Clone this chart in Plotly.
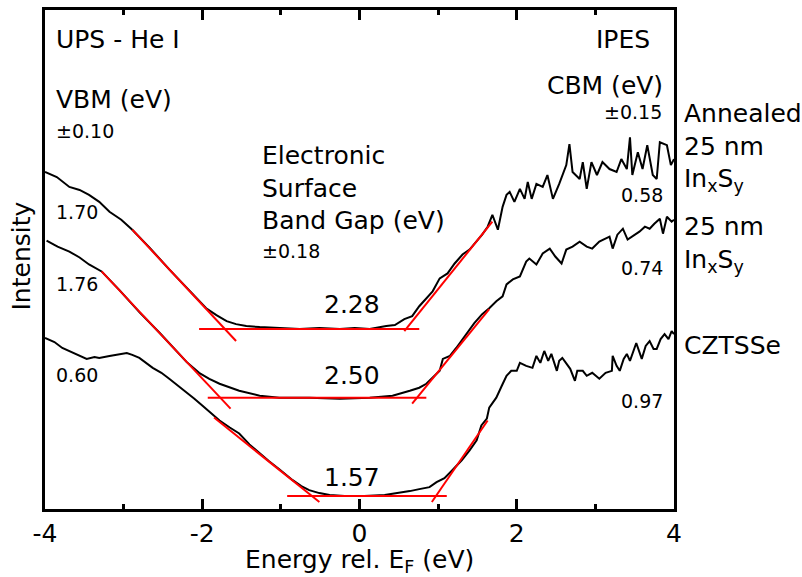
import plotly.graph_objects as go

# ---------------- data (energy in eV, intensity in arbitrary units) ----------------
annealed_x = [-4.00, -3.85, -3.69, -3.56, -3.44, -3.31, -3.18, -3.03, -2.89, -2.67, -2.42, -2.12, -1.95, -1.82,
              -1.69, -1.57, -1.44, -1.27, -1.08, -0.76, -0.51, -0.25, -0.06, 0.13, 0.34, 0.45, 0.57, 0.67, 0.76,
              0.85, 0.93, 1.02, 1.12, 1.21, 1.31, 1.40, 1.48, 1.56, 1.63, 1.69, 1.76, 1.82, 1.87, 1.91, 1.97,
              2.04, 2.10, 2.14, 2.19, 2.25, 2.33, 2.39, 2.46, 2.54, 2.63, 2.67, 2.71, 2.80, 2.84, 2.89, 2.95,
              3.02, 3.09, 3.18, 3.27, 3.33, 3.40, 3.44, 3.47, 3.54, 3.60, 3.66, 3.73, 3.78, 3.82, 3.91, 3.96, 4.00]
annealed_y = [339, 334, 324, 321, 316, 309, 299, 291, 281, 263, 241, 216, 202, 195,
              189, 186, 184, 183, 182, 181, 182, 181, 182, 181, 184, 185, 191, 194, 204,
              212, 219, 232, 237, 247, 256, 261, 268, 276, 284, 296, 281, 304, 316, 319, 309,
              322, 312, 329, 312, 327, 324, 336, 312, 327, 346, 367, 339, 332, 349, 322, 349,
              336, 349, 342, 339, 352, 342, 374, 336, 359, 342, 366, 336, 332, 369, 366, 346, 352]

inxsy_x = [-3.98, -3.84, -3.69, -3.56, -3.44, -3.28, -3.05, -2.80, -2.54, -2.20, -2.04, -1.91, -1.78, -1.65,
           -1.53, -1.27, -1.02, -0.64, -0.25, 0.13, 0.42, 0.64, 0.76, 0.85, 0.95, 1.02, 1.06, 1.15, 1.23,
           1.36, 1.46, 1.56, 1.65, 1.74, 1.82, 1.87, 1.95, 2.04, 2.12, 2.16, 2.25, 2.33, 2.42, 2.49, 2.57,
           2.63, 2.71, 2.80, 2.89, 2.96, 3.05, 3.18, 3.22, 3.28, 3.35, 3.41, 3.47, 3.56, 3.63, 3.69, 3.75,
           3.82, 3.86, 3.91, 3.97, 4.00]
inxsy_y = [270, 264, 259, 253, 246, 239, 220, 198, 177, 148, 137, 131, 126, 122,
           119, 114, 112, 112, 111, 112, 114, 119, 122, 126, 134, 139, 151, 154, 162,
           176, 187, 196, 202, 209, 214, 226, 231, 234, 249, 252, 246, 257, 262, 254, 247,
           261, 264, 269, 264, 262, 269, 274, 262, 276, 282, 271, 274, 279, 284, 282, 287,
           292, 277, 294, 289, 291]

cztsse_x = [-4.00, -3.88, -3.78, -3.63, -3.47, -3.37, -3.31, -3.18, -3.05, -2.96, -2.89, -2.80, -2.63, -2.52,
            -2.42, -2.29, -2.20, -2.10, -2.00, -1.88, -1.78, -1.65, -1.53, -1.40, -1.27, -1.15, -1.02, -0.85,
            -0.74, -0.64, -0.51, -0.38, -0.19, 0.06, 0.32, 0.51, 0.64, 0.76, 0.89, 0.98, 1.08, 1.18, 1.30,
            1.40, 1.49, 1.55, 1.62, 1.65, 1.70, 1.74, 1.81, 1.87, 1.93, 2.00, 2.04, 2.12, 2.20, 2.25, 2.30,
            2.35, 2.40, 2.44, 2.51, 2.54, 2.58, 2.63, 2.68, 2.74, 2.77, 2.84, 2.89, 2.96, 3.05, 3.13, 3.21,
            3.22, 3.27, 3.31, 3.36, 3.40, 3.44, 3.52, 3.59, 3.64, 3.69, 3.74, 3.78, 3.83, 3.88, 3.93, 3.97, 4.00]
cztsse_y = [172, 168, 162, 157, 151, 153, 152, 154, 156, 157, 155, 152, 142, 137,
            131, 123, 117, 111, 104, 96, 89, 82, 76, 65, 56, 48, 40, 29,
            23, 19, 16, 14, 13, 13, 14, 16, 18, 20, 22, 27, 31, 39, 49,
            59, 69, 84, 91, 102, 107, 112, 124, 134, 139, 139, 147, 144, 142, 154, 147,
            159, 149, 156, 139, 149, 152, 147, 141, 129, 139, 139, 134, 137, 131, 137, 139,
            154, 144, 139, 151, 156, 149, 167, 151, 164, 169, 161, 161, 171, 176, 171, 179, 176]

# linear-fit guide lines (start/end points)
fit_x = [[-2.89, -1.57], [-2.04, 0.76], [0.57, 1.69],
         [-3.28, -1.64], [-1.93, 0.85], [0.67, 1.65],
         [-1.85, -0.51], [-0.92, 1.11], [0.92, 1.63]]
fit_y = [[281, 169], [181, 181], [179, 289],
         [239, 101], [112, 112], [106, 201],
         [92, 7], [13, 13], [7, 89]]

vbm_labels = ["1.70", "1.76", "0.60"]
cbm_labels = ["0.58", "0.74", "0.97"]
gap_labels = ["2.28", "2.50", "1.57"]
sample_labels = ["Annealed<br>25 nm<br>In<sub>x</sub>S<sub>y</sub>",
                 "25 nm<br>In<sub>x</sub>S<sub>y</sub>", "CZTSSe"]

FONT = "DejaVu Sans"
BIG = 25
SMALL = 19

fig = go.Figure()
for xs, ys in [(annealed_x, annealed_y), (inxsy_x, inxsy_y), (cztsse_x, cztsse_y)]:
    fig.add_trace(go.Scatter(x=xs, y=ys, mode="lines", line=dict(color="black", width=2),
                             showlegend=False, hoverinfo="skip"))
for xs, ys in zip(fit_x, fit_y):
    fig.add_trace(go.Scatter(x=xs, y=ys, mode="lines", line=dict(color="#ff0000", width=2),
                             showlegend=False, hoverinfo="skip"))

def ann(text, x, y, size, xanchor="left", xref="x", yref="y"):
    fig.add_annotation(text=text, x=x, y=y, xref=xref, yref=yref, showarrow=False,
                       xanchor=xanchor, yanchor="middle", align=xanchor if xanchor != "center" else "center",
                       font=dict(family=FONT, size=size, color="black"))

ann("UPS - He I", -3.88, 472, BIG)
ann("VBM (eV)", -3.88, 412, BIG)
ann("±0.10", -3.88, 380, SMALL)
ann("Electronic<br>Surface<br>Band Gap (eV)", -1.27, 323, BIG)
ann("±0.18", -1.27, 260, SMALL)
for t, yy in zip(gap_labels, [206, 134, 32]):
    ann(t, -0.09, yy, BIG, xanchor="center")
for t, yy in zip(vbm_labels, [299, 226, 135]):
    ann(t, -3.88, yy, SMALL)
ann("IPES", 3.715, 472, BIG, xanchor="right")
ann("CBM (eV)", 3.88, 426, BIG, xanchor="right")
ann("±0.15", 3.87, 399, SMALL, xanchor="right")
for t, yy in zip(cbm_labels, [316, 242, 109]):
    ann(t, 3.88, yy, SMALL, xanchor="right")
# sample names sit outside the plotting area: place them in paper coordinates
for t, yy in zip(sample_labels, [364, 266, 164]):
    ann(t, (682 - 45) / 629, yy / 502, BIG, xref="paper", yref="paper")

# axis titles as annotations for precise placement
fig.add_annotation(text="Intensity", x=-23 / 629, y=254 / 502, xref="paper", yref="paper",
                   textangle=-90, showarrow=False, xanchor="center", yanchor="middle",
                   font=dict(family=FONT, size=BIG, color="black"))
fig.add_annotation(text="Energy rel. E<sub>F</sub> (eV)", x=0.5, y=-52 / 502, xref="paper", yref="paper",
                   showarrow=False, xanchor="center", yanchor="middle",
                   font=dict(family=FONT, size=BIG, color="black"))

fig.update_layout(
    width=802, height=577,
    margin=dict(l=45, r=128, t=7, b=68),
    paper_bgcolor="white", plot_bgcolor="white",
    font=dict(family=FONT, size=BIG, color="black"),
    showlegend=False,
)
fig.update_xaxes(range=[-4, 4], tickvals=[-4, -2, 0, 2, 4], ticktext=["-4", "-2", "0", "2", "4"],
                 ticks="inside", ticklen=10, tickwidth=3, tickcolor="black",
                 minor=dict(tickvals=[-3, -1, 1, 3], ticks="inside", ticklen=5, tickwidth=3, tickcolor="black"),
                 showline=True, linewidth=3, linecolor="black", mirror="allticks",
                 showgrid=False, zeroline=False, tickfont=dict(family=FONT, size=BIG, color="black"))
fig.update_yaxes(range=[0, 502], showticklabels=False, ticks="",
                 showline=True, linewidth=3, linecolor="black", mirror=True,
                 showgrid=False, zeroline=False)

fig.write_html("out.html")
